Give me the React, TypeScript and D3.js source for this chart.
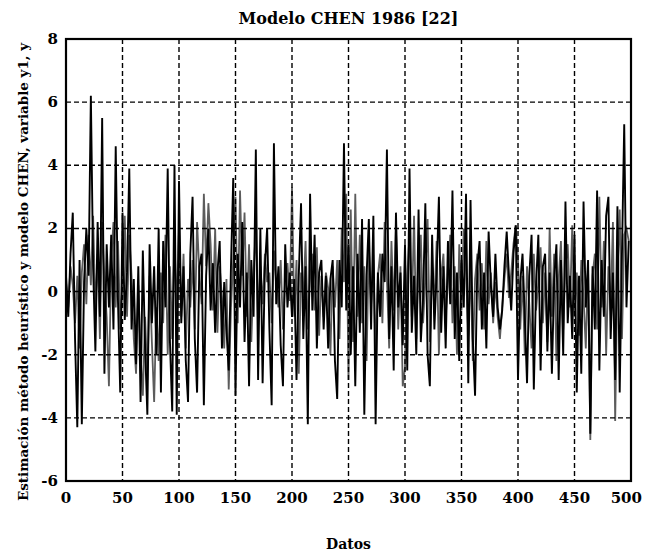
import React from "react";
import * as d3 from "d3";

const title = "Modelo CHEN 1986 [22]";
const xLabel = "Datos";
const yLabel = "Estimación método heurístico y modelo CHEN, variable y1, y";

const xTicks = [0, 50, 100, 150, 200, 250, 300, 350, 400, 450, 500];
const yTicks = [-6, -4, -2, 0, 2, 4, 6, 8];

// sample step along "Datos" for both series
const step = 2;

// heuristic estimate (black)
const estimate = [
  0.5, -0.8, 1.2, 2.5, -1.5, -4.3, 1.0, -4.2, 0.3, 2.0,
  0.5, 6.2, 0.8, -1.9, 2.2, -0.8, 5.5, -2.6, 1.5, -0.5,
  1.8, -1.2, 4.6, -0.3, -3.2, 2.5, -0.9, 0.6, 3.9, -1.2,
  0.4, -2.3, 0.8, -3.5, 1.3, -1.8, -3.9, 1.5, -1.0, 0.8,
  -2.0, 2.0, -3.2, 1.6, -0.5, 3.9, -1.6, -3.8, 4.0, -3.9,
  3.5, -1.0, 0.8, -2.2, -3.5, 1.2, 3.0, -1.5, -3.2, 0.8,
  1.2, -3.6, 0.5, 2.0, -0.6, 0.9, -1.3, 0.6, 1.6, -1.8,
  0.3, -1.2, -2.5, 0.8, 3.6, -3.3, 1.2, -0.5, 2.2, -1.6,
  0.6, -3.0, 1.0, -0.8, 4.5, -2.8, 2.0, -2.9, 0.8, 2.0,
  -1.2, -3.6, 4.7, -0.4, 0.8, -1.7, -3.0, 1.5, -0.5, 0.6,
  -0.8, 0.4, -2.8, 0.5, 2.8, -1.5, 0.8, -4.2, 3.1, -0.6,
  1.8, -1.8, 0.6, 1.0, -1.2, 0.5, -1.8, 0.4, 1.0, -2.2,
  -3.4, 1.0, -0.5, 4.7, -0.6, 1.5, -2.0, 0.8, -3.0, 1.2,
  -1.3, 2.3, -3.9, 0.5, 2.3, -1.2, 2.4, -4.2, 0.6, -0.8,
  1.2, 0.3, 4.5, -1.5, 0.8, -2.5, 2.5, -0.5, 0.6, -1.7,
  1.5, -2.5, 3.9, -1.3, 0.5, -2.0, 2.6, -1.6, -0.2, 2.8,
  -2.0, -3.0, 1.8, -1.2, 0.6, 3.0, -1.3, 0.8, -1.8, 1.6,
  -0.4, 3.2, -1.5, 0.6, -2.2, 1.0, -0.5, 3.1, -2.9, 2.9,
  -1.5, -3.3, 0.8, 1.6, -1.2, 0.6, -1.8, 1.9, 0.2, -0.8,
  1.2, -0.5, -1.2, -0.6, 0.8, 1.9, 0.5, -0.6, 1.2, 2.1,
  -2.8, 0.3, 1.2, -0.8, -2.9, 0.5, 1.8, -3.1, 0.2, 1.8,
  -2.5, 0.8, 1.2, -1.9, 0.6, -2.6, 0.4, 1.5, -2.8, 1.0,
  -2.0, 2.85, -1.0, 0.5, -1.5, 1.8, -3.2, 0.5, -2.6, 2.85,
  -0.5, 1.0, -4.5, 0.8, -1.2, 3.2, -2.5, 1.0, -0.8, 2.4,
  3.0, -1.5, 0.6, -2.8, 2.7, -3.2, 1.2, 5.3, -0.5, 1.6,
];

// CHEN model output (grey)
const chen = [
  0.3, -0.5, 0.8, 0.2, -1.0, 0.5, -1.8, 0.6, 1.5, -0.4,
  1.8, 0.2, 2.4, -0.6, 1.2, -1.5, 2.2, 0.4, -0.8, -3.0,
  1.0, 2.2, -0.5, 1.6, -1.2, 0.3, 2.4, -0.8, 1.8, 0.5,
  -1.5, -2.6, 0.2, -2.0, -3.3, -0.8, -2.8, 0.5, -1.6, -3.5,
  -0.5, -2.2, 0.6, -1.0, 1.8, -2.0, 0.8, -1.5, 1.6, -0.6,
  2.0, -0.8, 1.2, -1.8, 0.4, -0.5, 1.0, -1.2, 2.2, 0.6,
  -0.4, 3.1, 0.8, 2.8, 1.5, -0.6, 2.0, -1.3, 0.8, -0.2,
  -1.8, 0.4, -3.1, -0.5, 1.0, 3.0, -1.0, 3.2, 0.5, 2.5,
  -0.8, 1.5, -1.6, 0.6, 2.0, -1.0, 0.8, -0.4, 1.2, 0.3,
  0.6, -1.0, 1.3, 0.2, -0.5, 1.0, -1.2, 0.4, 0.9, -0.3,
  3.3, -0.8, 1.0, -2.6, 0.6, -0.2, 1.6, -1.2, 0.4, 1.2,
  -0.6, 1.4, -1.4, 0.5, -0.8, 0.6, 0.1, -2.0, 0.8, -0.5,
  1.0, -1.5, 2.0, 0.3, 3.1, -2.8, 2.6, -1.6, 3.1, -0.8,
  1.8, -1.0, 0.8, -2.2, 1.5, -0.4, 1.0, -2.0, 0.5, 1.2,
  -1.0, 2.2, 0.4, -1.8, 1.6, -0.6, 2.0, -1.2, 0.8, -3.0,
  -2.4, 0.5, 1.8, -0.8, 2.4, -1.5, 0.6, 1.8, -1.0, 0.4,
  2.3, -1.6, 0.8, -0.4, 1.6, -2.0, 0.5, 1.2, -0.8, 0.3,
  1.8, -1.0, 0.8, -2.0, 1.5, -0.6, 2.0, 0.6, -1.4, 0.8,
  -2.2, 0.4, 1.2, -0.6, 0.9, -1.2, 1.6, -0.4, 0.6, -1.0,
  0.3, -0.8, -1.5, -0.5, 0.4, 1.2, -0.2, 0.6, 1.5, 2.1,
  1.0, -1.2, 0.5, -2.0, 0.8, -0.4, -1.8, 1.2, -0.6, 0.3,
  1.4, -1.0, 0.6, -1.6, 2.0, -0.8, 1.2, -2.2, 0.4, 1.6,
  -1.2, 0.8, 1.5, -0.5, 2.1, -0.8, 0.6, -1.4, 1.0, -0.2,
  -1.8, 0.8, -4.7, 0.5, 1.2, -1.2, 3.0, -0.5, 1.6, -2.0,
  0.8, -0.6, 2.2, -4.1, 0.5, 2.6, -1.5, 1.8, 2.0, 1.6,
];

const W = 645;
const H = 554;
const m = { left: 66, right: 631, top: 39, bottom: 481 };
const font = "'DejaVu Serif', 'Liberation Serif', serif";

export default function App() {
  const x = d3.scaleLinear().domain([0, 500]).range([m.left, m.right]);
  const y = d3.scaleLinear().domain([-6, 8]).range([m.bottom, m.top]);

  const line = d3
    .line<number>()
    .x((_, i) => x(i * step))
    .y((d) => y(d));

  return (
    <svg
      width={W}
      height={H}
      style={{ position: "absolute", left: 0, top: 0, background: "#fff" }}
    >
      <defs>
        <clipPath id="plot">
          <rect x={m.left} y={m.top} width={m.right - m.left} height={m.bottom - m.top} />
        </clipPath>
      </defs>

      {/* data */}
      <g clipPath="url(#plot)">
        <path d={line(chen) ?? ""} fill="none" stroke="#5c5c5c" strokeWidth={1.8} />
        <path d={line(estimate) ?? ""} fill="none" stroke="#000" strokeWidth={1.9} />
      </g>

      {/* grid */}
      <g stroke="#000" strokeWidth={1.4} strokeDasharray="5,3">
        {xTicks.slice(1, -1).map((t) => (
          <line key={"gx" + t} x1={x(t)} x2={x(t)} y1={m.top} y2={m.bottom} />
        ))}
        {yTicks.slice(1, -1).map((t) => (
          <line key={"gy" + t} x1={m.left} x2={m.right} y1={y(t)} y2={y(t)} />
        ))}
      </g>

      <rect
        x={m.left}
        y={m.top}
        width={m.right - m.left}
        height={m.bottom - m.top}
        fill="none"
        stroke="#000"
        strokeWidth={2.2}
      />

      {/* tick labels */}
      <g fontFamily={font} fontWeight="bold" fontSize={15} fill="#000">
        {xTicks.map((t, i) => {
          const last = i === xTicks.length - 1;
          return (
            <text
              key={"tx" + t}
              x={last ? W - 3 : x(t)}
              y={m.bottom + 22}
              textAnchor={last ? "end" : "middle"}
            >
              {t}
            </text>
          );
        })}
        {yTicks.map((t) => (
          <text key={"ty" + t} x={m.left - 8} y={y(t) + 5} textAnchor="end">
            {t}
          </text>
        ))}
      </g>

      <text
        x={(m.left + m.right) / 2}
        y={24}
        textAnchor="middle"
        fontFamily={font}
        fontWeight="bold"
        fontSize={16}
      >
        {title}
      </text>
      <text
        x={(m.left + m.right) / 2}
        y={549}
        textAnchor="middle"
        fontFamily={font}
        fontWeight="bold"
        fontSize={14}
      >
        {xLabel}
      </text>
      <text
        transform={`translate(28,${(m.top + m.bottom) / 2 + 12}) rotate(-90)`}
        textAnchor="middle"
        fontFamily={font}
        fontWeight="bold"
        fontSize={13}
        textLength={458}
        lengthAdjust="spacingAndGlyphs"
      >
        {yLabel}
      </text>
    </svg>
  );
}
